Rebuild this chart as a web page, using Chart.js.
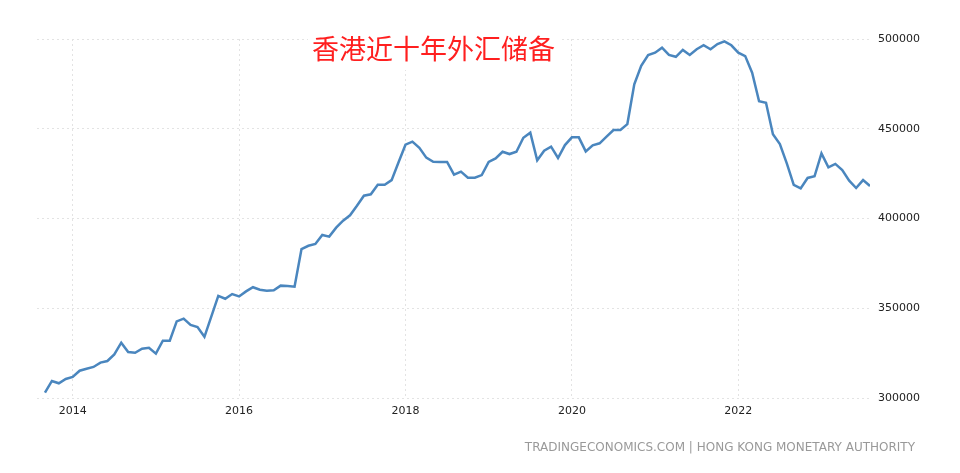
<!DOCTYPE html>
<html>
<head>
<meta charset="utf-8">
<script src="https://cdn.jsdelivr.net/npm/chart.js@4"></script>
<style>
  html,body{margin:0;padding:0;background:#fff}
  #wrap{width:960px;height:473px;position:relative}
</style>
</head>
<body>
<div id="wrap"><canvas id="reserves"></canvas></div>
<script>
// HK foreign currency reserves, monthly, HKD million
const title = '香港近十年外汇储备';
const source = 'TRADINGECONOMICS.COM | HONG KONG MONETARY AUTHORITY';
const firstMonth = {year:2013, month:9};
const reserves = [
  303000,309500,308200,310600,
  311700,315200,316300,317300,319700,320600,324300,330800,325600,325200,327500,328000,
  324700,331900,331900,342700,344200,340700,339500,334100,345500,356900,355300,357900,
  356600,359400,361700,360300,359800,360000,362600,362400,362000,383000,384800,385800,
  390800,389900,394900,398800,401800,407100,412700,413500,418800,418800,421400,431300,
  441100,442800,439400,433900,431600,431500,431500,424400,426100,422700,422700,424200,
  431500,433500,437200,435900,437200,445000,447800,432400,437800,440000,433700,440900,
  445200,445200,437400,440800,441900,445600,449300,449300,452600,474800,485000,491100,
  492400,495200,491100,490100,493900,491100,494300,496500,494300,497200,498700,496500,
  492400,490500,481200,465300,464500,446900,441500,430700,418700,416800,422600,423500,
  436300,428500,430400,427000,421100,417000,421400,418100
];
const tickYears = [2014, 2016, 2018, 2020, 2022];
const yTicks = [300000, 350000, 400000, 450000, 500000];

// month labels, and x position = months since Jan 2014
const months = reserves.map((_, i) => {
  const m = firstMonth.month - 1 + i;
  return {year: firstMonth.year + Math.floor(m/12), month: m%12 + 1};
});
const points = months.map((m, i) => ({x:(m.year-2014)*12 + (m.month-1), y:reserves[i]}));

const grid = {color:'#e3e3e3', lineWidth:1};
const dash = [2,3];
const tickFont = {family:'DejaVu Sans', size:11};

const overlay = {
  id:'overlay',
  afterDraw(chart){
    const c = chart.ctx;
    c.save();
    c.font = '27px "Noto Sans CJK SC"';
    c.textBaseline = 'middle';
    const w = c.measureText(title).width;
    c.fillStyle = '#fff';
    c.fillRect(308, 26, w+8, 44);
    c.fillStyle = '#ff1f1f';
    c.fillText(title, 312, 49);
    c.font = '12px "DejaVu Sans"';
    c.fillStyle = '#999';
    c.textAlign = 'right';
    c.fillText(source, 915, 448);
    c.restore();
  }
};

new Chart(document.getElementById('reserves'), {
  type:'line',
  data:{datasets:[{label:'Reserves', data:points, borderColor:'#4a86be', borderWidth:2.5,
    pointRadius:0, tension:0, fill:false}]},
  options:{
    responsive:true, maintainAspectRatio:false, animation:false,
    layout:{padding:{top:39, left:37, right:0, bottom:0}},
    plugins:{legend:{display:false}, tooltip:{enabled:false}},
    scales:{
      x:{type:'linear', min:-5.15, max:115,
        afterBuildTicks(s){ s.ticks = tickYears.map(y => ({value:(y-2014)*12})); },
        afterFit(s){ s.height = 75; },
        border:{display:false, dash:dash},
        grid:{...grid, drawTicks:false},
        ticks:{padding:7, color:'#222', font:tickFont,
          callback:v => String(2014 + v/12)}},
      y:{position:'right', min:300000, max:500000,
        afterBuildTicks(s){ s.ticks = yTicks.map(v => ({value:v})); },
        afterFit(s){ s.width = 90; },
        border:{display:false, dash:dash},
        grid:{...grid, drawTicks:false},
        ticks:{padding:8, color:'#222', font:tickFont, callback:v => String(v)}}
    }
  },
  plugins:[overlay]
});
</script>
</body>
</html>
